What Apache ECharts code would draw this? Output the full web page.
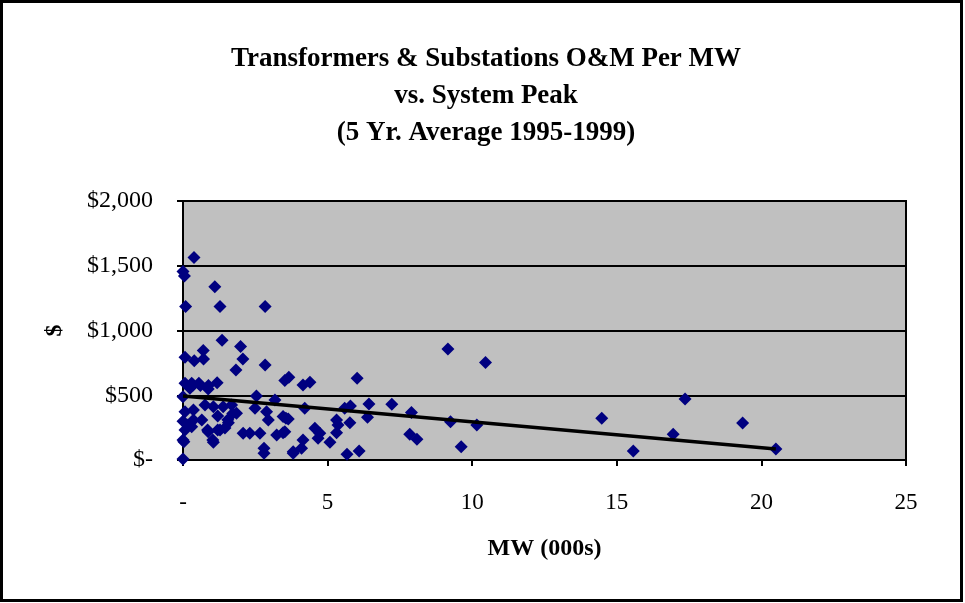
<!DOCTYPE html>
<html>
<head>
<meta charset="utf-8">
<script src="https://cdn.jsdelivr.net/npm/echarts@6/dist/echarts.min.js"></script>
<style>
  html, body { margin: 0; padding: 0; background: #fff; }
  #container { width: 965px; height: 603px; }
</style>
</head>
<body>
<div id="container"></div>
<script>
// MW (000s) per utility
var mwX = [0.38, 0.0, 0.05, 1.1, 0.09, 1.28, 2.84, 1.35, 1.99, 0.07, 0.39, 0.70, 0.71, 2.07, 1.83, 2.84,
  3.52, 3.66, 0.07, 0.3, 0.55, 0.24, 0.87, 1.18, 0.0, 2.54, 3.18, 0.07, 0.36, 0.76, 1.05, 1.39, 1.68,
  1.85, 2.49, 2.89, 2.95, 3.56, 0.36, 0.65, 0.07, 0.3, 0.87, 1.28, 1.57, 2.08, 2.31, 2.66, 3.24, 3.52,
  0.03, 1.05, 2.8, 2.8, 3.81, 0.0, 4.15, 4.39, 6.02, 3.46, 3.64, 4.21, 3.46, 3.81, 4.10, 4.15, 4.56,
  4.73, 4.67, 5.08, 5.31, 5.36, 5.31, 5.59, 5.79, 5.77, 6.43, 6.38, 5.67, 6.09, 7.22, 7.90, 7.84, 8.09,
  9.16, 10.46, 9.25, 10.16, 9.62, 14.48, 15.57, 16.95, 17.36, 19.35, 20.5,
  0.35, 0.6, 0.88, 1.2, 1.55, 1.72, 0.17, 0.85, 1.2, 1.45, 1.03, 0.0, 0.0];
// O&M $ per MW
var omY = [1563, 1455, 1420, 1337, 1185, 1185, 1185, 925, 876, 794, 767, 845, 780, 780, 695, 734,
  613, 639, 593, 593, 593, 554, 549, 597, 489, 495, 464, 373, 386, 425, 412, 412, 425,
  361, 399, 373, 309, 322, 309, 309, 232, 257, 219, 232, 288, 206, 206, 206, 193, 219,
  141, 137, 90, 52, 52, 8, 580, 600, 631, 335, 317, 399, 211, 64, 90, 155, 245,
  206, 168, 137, 309, 270, 211, 399, 417, 288, 433, 330, 44, 70, 430, 366, 199, 160,
  858, 752, 296, 270, 103, 322, 70, 199, 471, 286, 85,
  580, 575, 575, 340, 310, 360, 270, 232, 232, 248, 155, 155, 300];
// linear trend line ends
var trendX = [0, 20.5];
var trendY = [495, 85];
var yTicks = [0, 500, 1000, 1500, 2000];

var points = mwX.map(function (x, i) { return [x, omY[i]]; });
var trend = trendX.map(function (x, i) { return [x, trendY[i]]; });

var serif = '"Liberation Serif", "Times New Roman", serif';
var myChart = echarts.init(document.getElementById('container'));
var option = {
  backgroundColor: '#fff',
  animation: false,
  title: {
    text: 'Transformers & Substations O&M Per MW\nvs. System Peak\n(5 Yr. Average 1995-1999)',
    left: 481,
    top: 36,
    textAlign: 'center',
    textStyle: { fontFamily: serif, fontWeight: 'bold', fontSize: 27, lineHeight: 37, color: '#000' }
  },
  graphic: [{
    type: 'rect',
    shape: { x: 1.5, y: 1.5, width: 960, height: 599 },
    style: { fill: 'none', stroke: '#000', lineWidth: 3 },
    z: 100
  }],
  grid: {
    left: 183, right: 59, top: 201, bottom: 143,
    show: true, backgroundColor: '#c0c0c0', borderColor: '#000', borderWidth: 2
  },
  xAxis: {
    type: 'value', min: 0, max: 25, interval: 5,
    name: 'MW (000s)', nameLocation: 'middle', nameGap: 77,
    nameTextStyle: { fontFamily: serif, fontWeight: 'bold', fontSize: 24, color: '#000' },
    axisLine: { lineStyle: { color: '#000', width: 2 } },
    axisTick: { show: true, length: 6, lineStyle: { color: '#000', width: 2 } },
    axisLabel: {
      margin: 31, fontFamily: serif, fontSize: 23, color: '#000',
      formatter: function (v) { return v === 0 ? '-' : String(v); }
    },
    splitLine: { show: false }
  },
  yAxis: {
    type: 'value', min: yTicks[0], max: yTicks[yTicks.length - 1], interval: 500,
    name: '$', nameLocation: 'middle', nameGap: 116, nameRotate: 90,
    nameTextStyle: { fontFamily: serif, fontWeight: 'bold', fontSize: 24, color: '#000' },
    axisLine: { show: true, lineStyle: { color: '#000', width: 2 } },
    axisTick: { show: true, length: 6, lineStyle: { color: '#000', width: 2 } },
    axisLabel: {
      margin: 30, fontFamily: serif, fontSize: 24, color: '#000',
      formatter: function (v) { return v === 0 ? '$-' : '$' + v.toLocaleString('en-US'); }
    },
    splitLine: { show: true, lineStyle: { color: '#000', width: 2 } }
  },
  series: [
    {
      name: 'O&M per MW',
      type: 'scatter',
      symbol: 'diamond',
      symbolSize: 13,
      itemStyle: { color: '#000080', opacity: 1 },
      data: points,
      z: 2
    },
    {
      name: 'Trend',
      type: 'line',
      symbol: 'none',
      lineStyle: { color: '#000', width: 3.5 },
      data: trend,
      z: 3
    }
  ]
};
myChart.setOption(option);
</script>
</body>
</html>
